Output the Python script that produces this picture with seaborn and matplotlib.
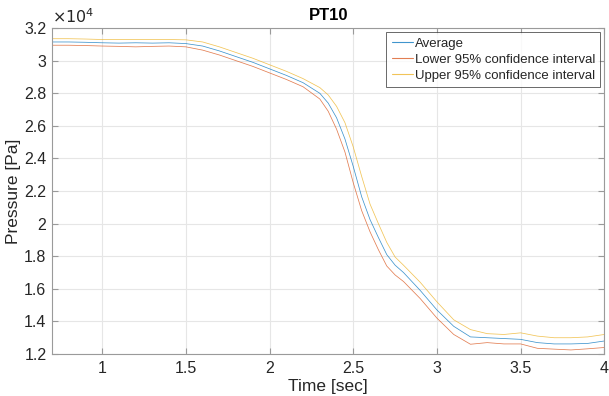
import numpy as np
import pandas as pd
import matplotlib
matplotlib.use("Agg")
import matplotlib.pyplot as plt
import seaborn as sns
from matplotlib.ticker import FuncFormatter, MultipleLocator

time = [0.70, 0.80, 0.90, 1.00, 1.10, 1.20, 1.30, 1.40, 1.50, 1.60, 1.70, 1.80, 1.90,
        2.00, 2.10, 2.20, 2.30, 2.35, 2.40, 2.45, 2.50, 2.55, 2.60, 2.65, 2.70, 2.75,
        2.80, 2.90, 3.00, 3.10, 3.20, 3.30, 3.40, 3.50, 3.60, 3.70, 3.80, 3.90, 4.00]

average = [31150, 31150, 31130, 31100, 31080, 31100, 31080, 31100, 31050, 30900, 30600,
           30250, 29900, 29500, 29100, 28650, 28000, 27400, 26500, 25200, 23500, 21650,
           20250, 19150, 18100, 17450, 17000, 15900, 14700, 13700, 13050, 13000, 12950,
           12900, 12700, 12620, 12620, 12650, 12800]

lower = [30950, 30950, 30930, 30900, 30880, 30850, 30880, 30900, 30850, 30650, 30350,
         30000, 29650, 29250, 28850, 28400, 27650, 26900, 25800, 24400, 22500, 20800,
         19500, 18400, 17400, 16850, 16450, 15400, 14200, 13200, 12600, 12700, 12620,
         12620, 12350, 12300, 12250, 12320, 12400]

upper = [31350, 31350, 31330, 31300, 31300, 31300, 31300, 31300, 31280, 31150, 30850,
         30500, 30150, 29750, 29350, 28900, 28350, 27900, 27200, 26200, 24700, 22900,
         21200, 20000, 18850, 17950, 17450, 16400, 15200, 14100, 13500, 13250, 13200,
         13300, 13100, 13000, 13000, 13050, 13200]

labels = ["Average", "Lower 95% confidence interval", "Upper 95% confidence interval"]
colors = ["#0072BD", "#D95319", "#EDB120"]

sns.set_style("white")
plt.rcParams["font.family"] = ["Liberation Sans", "DejaVu Sans"]

fig = plt.figure(figsize=(6.09, 3.96), dpi=100)
ax = fig.add_axes([0.0854, 0.106, 0.907, 0.823])

for series, lab, col in zip([average, lower, upper], labels, colors):
    df = pd.DataFrame({"t": time, "p": series})
    sns.lineplot(data=df, x="t", y="p", ax=ax, color=col, linewidth=0.55,
                 alpha=0.75, label=lab)

ax.set_xlim(0.7, 4.0)
ax.set_ylim(12000, 32000)
ax.xaxis.set_major_locator(MultipleLocator(0.5))
ax.yaxis.set_major_locator(MultipleLocator(2000))
ax.yaxis.set_major_formatter(FuncFormatter(lambda v, p: f"{v/1e4:g}"))
ax.xaxis.set_major_formatter(FuncFormatter(lambda v, p: f"{v:g}"))

ax.grid(True, color="#e6e6e6", linewidth=0.8)
for s in ax.spines.values():
    s.set_color("#9a9a9a")
    s.set_linewidth(0.8)
    s.set_visible(True)
ax.tick_params(direction="in", length=4, width=0.8, color="#9a9a9a",
               labelsize=11.5, labelcolor="#262626", top=True, right=True,
               bottom=True, left=True)
ax.tick_params(axis="x", pad=5)
ax.tick_params(axis="y", pad=4)

ax.set_xlabel("Time [sec]", fontsize=12.5, color="#262626", labelpad=2)
ax.set_ylabel("Pressure [Pa]", fontsize=12.5, color="#262626", labelpad=2)
ax.set_title("PT10", fontsize=12, fontweight="bold", color="black", pad=6)
ax.text(0.0, 1.005, r"$\times10^{4}$", transform=ax.transAxes, fontsize=11.5,
        color="#262626", ha="left", va="bottom")

leg = ax.legend(loc="upper right", fontsize=9.5, frameon=True, fancybox=False,
                handlelength=1.6, handletextpad=0.15, borderpad=0.4,
                labelspacing=0.3, borderaxespad=0.3)
leg.get_frame().set_edgecolor("#262626")
leg.get_frame().set_linewidth(0.6)
for line in leg.get_lines():
    line.set_linewidth(0.8)

fig.savefig("out.png", dpi=100)
